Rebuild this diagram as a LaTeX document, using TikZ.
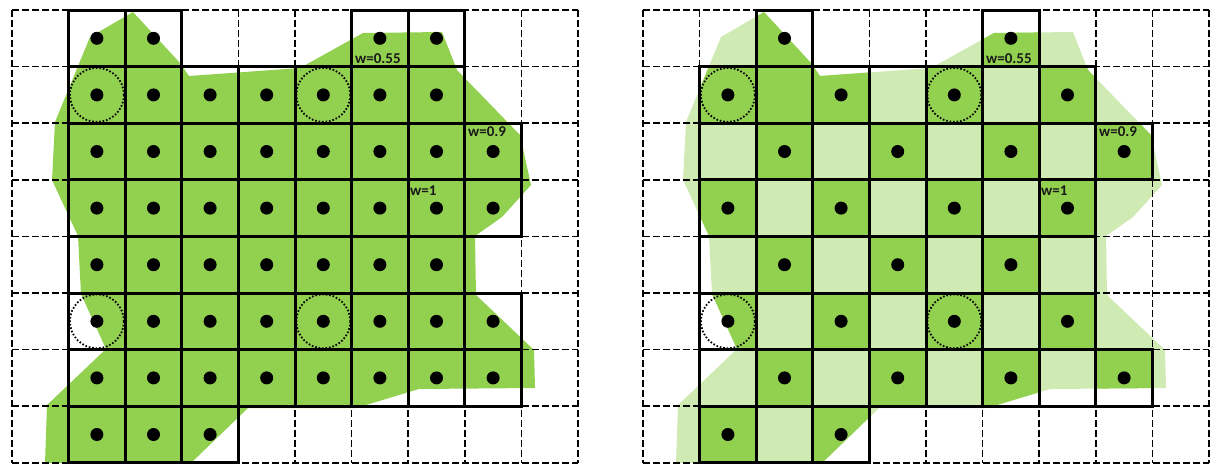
\documentclass[tikz,border=0pt]{standalone}
\usepackage{fontspec}
\setmainfont{Carlito}
\definecolor{gdark}{RGB}{146,208,80}
\definecolor{glight}{RGB}{208,234,180}
\newcommand\blobpath{(133,12) -- (180,63) -- (189,76) -- (300,68) -- (363,33) -- (442,32) -- (457,70) -- (520,135) -- (531,185) -- (502,217) -- (475,236) -- (476,295) -- (534,350) -- (535,388) -- (419,389) -- (356,408) -- (248,408) -- (191,463) -- (45,463) -- (47,405) -- (106,349) -- (81,294) -- (78,236) -- (52,180) -- (55,122) -- (90,37) -- cycle}
\newcommand\Sz{56.6}
\begin{document}
\begin{tikzpicture}[x=1pt,y=-1pt,
  gridline/.style={line width=1.6pt,dash pattern=on 7pt off 3pt},
  cellbox/.style={line width=3pt,line join=miter},
  dotmark/.style={fill=black},
  ring/.style={line width=1.8pt,dash pattern=on 1.6pt off 1.9pt},
  wlabel/.style={font=\bfseries\fontsize{15}{15}\selectfont,anchor=base west,inner sep=0pt,text=black!90}]
\useasboundingbox (0,0) rectangle (1222,474);

% ---------------- left panel ----------------
\begin{scope}
  \fill[gdark] \blobpath;
  \foreach \i in {0,...,10} \draw[gridline] ({12+\i*\Sz},10) -- ({12+\i*\Sz},{10+8*\Sz});
  \foreach \j in {0,...,8} \draw[gridline] (12,{10+\j*\Sz}) -- ({12+10*\Sz},{10+\j*\Sz});
  \foreach \r/\cols in {0/{1,2,6,7},1/{1,2,3,4,5,6,7},2/{1,2,3,4,5,6,7,8},3/{1,2,3,4,5,6,7,8},4/{1,2,3,4,5,6,7},5/{1,2,3,4,5,6,7,8},6/{1,2,3,4,5,6,7,8},7/{1,2,3}}{
    \foreach \c in \cols {
      \draw[cellbox] ({12+\c*\Sz},{10+\r*\Sz}) rectangle ++(\Sz,\Sz);
    }
  }
  \foreach \r/\cols in {0/{1,2,6,7},1/{1,2,3,4,5,6,7},2/{1,2,3,4,5,6,7,8},3/{1,2,3,4,5,6,7,8},4/{1,2,3,4,5,6,7},5/{1,2,3,4,5,6,7,8},6/{1,2,3,4,5,6,7,8},7/{1,2,3}}{
    \foreach \c in \cols {
      \fill[dotmark] ({12+(\c+0.5)*\Sz},{10+(\r+0.5)*\Sz}) circle (6.5);
    }
  }
  \foreach \c/\r in {1/1,5/1,1/5,5/5}
    \draw[ring] ({12+(\c+0.5)*\Sz},{10+(\r+0.5)*\Sz}) circle (27);
  \node[wlabel] (la) at (355,63) {w=0.55};
  \node[wlabel] (lb) at (468,136) {w=0.9};
  \node[wlabel] (lc) at (410,195) {w=1};
\end{scope}

% ---------------- right panel ----------------
\begin{scope}[shift={(631,0)}]
  \fill[glight] \blobpath;
  \begin{scope}
    \clip \blobpath;
    \foreach \r/\cols in {0/{2,6},1/{1,2,3,5,7},2/{2,4,6,8},3/{1,3,5,7},4/{2,4,6},5/{1,3,5,7},6/{2,4,6,8},7/{1,3}}{
      \foreach \c in \cols {
        \fill[gdark] ({12+\c*\Sz},{10+\r*\Sz}) rectangle ++(\Sz,\Sz);
      }
    }
  \end{scope}
  \foreach \i in {0,...,10} \draw[gridline] ({12+\i*\Sz},10) -- ({12+\i*\Sz},{10+8*\Sz});
  \foreach \j in {0,...,8} \draw[gridline] (12,{10+\j*\Sz}) -- ({12+10*\Sz},{10+\j*\Sz});
  \foreach \r/\cols in {0/{2,6},1/{1,2,3,4,5,6,7},2/{1,2,3,4,5,6,7,8},3/{1,2,3,4,5,6,7},4/{1,2,3,4,5,6,7},5/{1,2,3,4,5,6,7},6/{1,2,3,4,5,6,7,8},7/{1,2,3}}{
    \foreach \c in \cols {
      \draw[cellbox] ({12+\c*\Sz},{10+\r*\Sz}) rectangle ++(\Sz,\Sz);
    }
  }
  \foreach \r/\cols in {0/{2,6},1/{1,3,5,7},2/{2,4,6,8},3/{1,3,5,7},4/{2,4,6},5/{1,3,5,7},6/{2,4,6,8},7/{1,3}}{
    \foreach \c in \cols {
      \fill[dotmark] ({12+(\c+0.5)*\Sz},{10+(\r+0.5)*\Sz}) circle (6.5);
    }
  }
  \foreach \c/\r in {1/1,5/1,1/5,5/5}
    \draw[ring] ({12+(\c+0.5)*\Sz},{10+(\r+0.5)*\Sz}) circle (27);
  \node[wlabel] (ra) at (355,63) {w=0.55};
  \node[wlabel] (rb) at (468,136) {w=0.9};
  \node[wlabel] (rc) at (410,195) {w=1};
\end{scope}
\end{tikzpicture}
\end{document}
